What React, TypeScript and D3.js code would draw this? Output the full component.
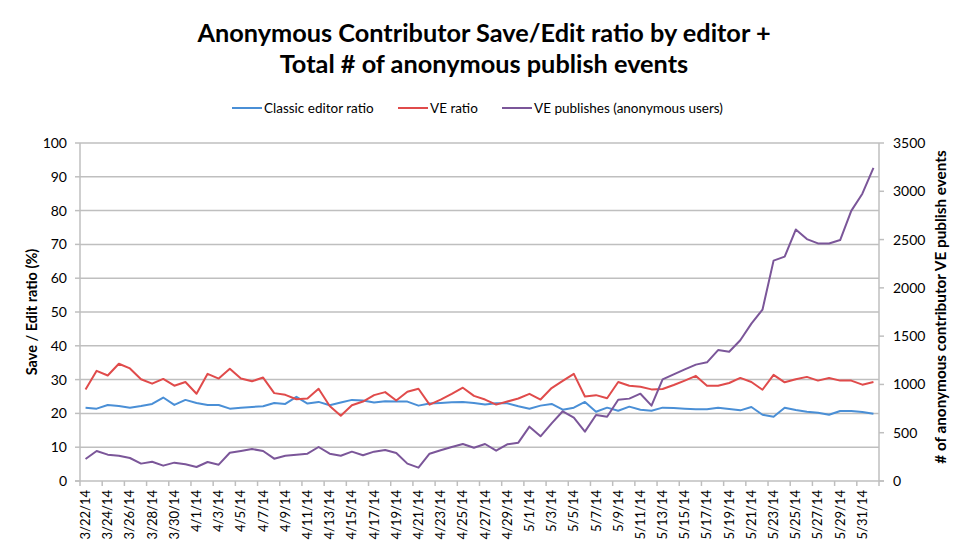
import * as React from 'react';
import * as d3 from "d3";

// one value per day, 3/22/14 .. 6/1/14
const startDate = new Date(2014, 2, 22);
const endDate = new Date(2014, 5, 2);

const classicRatio = [
    21.7, 21.4, 22.5, 22.2, 21.7, 22.2, 22.8, 24.7, 22.5, 24.0, 23.1, 22.5, 22.5, 21.4, 21.7,
    21.9, 22.1, 23.1, 22.8, 24.9, 22.9, 23.4, 22.4, 23.2, 24.0, 23.8, 23.2, 23.6, 23.5,
    23.5, 22.3, 22.9, 23.1, 23.3, 23.4, 23.1, 22.6, 23.0, 23.0, 22.1, 21.4, 22.3, 22.8,
    21.1, 21.7, 23.4, 20.5, 21.7, 20.8, 22.0, 21.1, 20.8, 21.7, 21.6, 21.4, 21.2, 21.2,
    21.7, 21.3, 20.9, 21.9, 19.6, 19.0, 21.7, 21.0, 20.5, 20.2, 19.6, 20.7, 20.7, 20.4, 19.9
];

const veRatio = [
    27.1, 32.6, 31.2, 34.7, 33.3, 30.1, 28.8, 30.2, 28.2, 29.3, 25.8, 31.7, 30.3, 33.2, 30.3,
    29.5, 30.6, 26.0, 25.5, 24.2, 24.4, 27.3, 22.2, 19.3, 22.4, 23.5, 25.4, 26.3, 23.8,
    26.4, 27.3, 22.6, 24.1, 25.8, 27.6, 25.2, 24.1, 22.6, 23.5, 24.4, 25.8, 24.1, 27.5,
    29.6, 31.7, 25.0, 25.4, 24.5, 29.3, 28.2, 27.9, 27.1, 27.2, 28.4, 29.7, 31.1, 28.2,
    28.2, 29.0, 30.5, 29.3, 27.0, 31.4, 29.2, 30.1, 30.8, 29.7, 30.5, 29.7, 29.7, 28.5, 29.3
];

const vePublishes = [
    228, 311, 273, 262, 238, 180, 200, 159, 190, 173, 145, 197, 169, 293, 311,
    331, 311, 231, 262, 273, 283, 352, 283, 262, 304, 266, 304, 321, 290,
    180, 138, 283, 318, 352, 383, 345, 383, 314, 380, 397, 563, 463, 597,
    722, 656, 511, 683, 666, 842, 853, 904, 780, 1053, 1105, 1156, 1205, 1229,
    1356, 1339, 1458, 1630, 1774, 2282, 2323, 2604, 2505, 2460, 2460, 2495, 2797, 2975, 3243
];

const leftTicks = [0, 10, 20, 30, 40, 50, 60, 70, 80, 90, 100];
const rightTicks = [0, 500, 1000, 1500, 2000, 2500, 3000, 3500];

const titleLines = ["Anonymous Contributor Save/Edit ratio by editor +", "Total # of anonymous publish events"];

const series = [
    { name: "Classic editor ratio", color: "#4a8fd6", values: classicRatio, axis: "left" },
    { name: "VE ratio", color: "#e04b4b", values: veRatio, axis: "left" },
    { name: "VE publishes (anonymous users)", color: "#7b5699", values: vePublishes, axis: "right" },
];

const font = "Lato, 'Open Sans', sans-serif";

export default function App() {
    const width = 957, height = 549;
    const left = 80, right = 879, top = 143, bottom = 481;

    const dates = d3.timeDay.range(startDate, endDate);
    const fmt = d3.timeFormat("%-m/%-d/%y");

    const x = d3.scaleBand<number>()
        .domain(dates.map((_, i) => i))
        .range([left, right]);
    const bw = x.bandwidth();
    const cx = (i: number) => (x(i) ?? 0) + bw / 2;

    const yL = d3.scaleLinear().domain([0, 100]).range([bottom, top]);
    const yR = d3.scaleLinear().domain([0, 3500]).range([bottom, top]);

    // legend line starts
    const legendX = [232, 398, 502];

    return (
        <svg width={width} height={height} style={{ position: "absolute", left: 0, top: 0, background: "#fff" }} fontFamily={font}>
            {titleLines.map((t, i) => (
                <text key={i} x={484} y={42 + i * 31} textAnchor="middle" fontSize={25.3} fontWeight="bold" fill="#000">{t}</text>
            ))}

            {series.map((s, i) => (
                <g key={s.name}>
                    <line x1={legendX[i]} x2={legendX[i] + 30} y1={108} y2={108} stroke={s.color} strokeWidth={2} />
                    <text x={legendX[i] + 32} y={112.5} fontSize={13.5} fill="#000">{s.name}</text>
                </g>
            ))}

            {leftTicks.filter(t => t > 0).map(t => (
                <line key={t} x1={left} x2={right} y1={yL(t)} y2={yL(t)} stroke="#bfbfbf" strokeWidth={1.5} />
            ))}

            <line x1={left} x2={left} y1={top} y2={bottom} stroke="#bfbfbf" strokeWidth={1.5} />
            <line x1={right} x2={right} y1={top} y2={bottom} stroke="#bfbfbf" strokeWidth={1.5} />
            <line x1={left - 5} x2={right + 5} y1={bottom} y2={bottom} stroke="#bfbfbf" strokeWidth={1.5} />

            {leftTicks.map(t => (
                <g key={t}>
                    <line x1={left - 5} x2={left} y1={yL(t)} y2={yL(t)} stroke="#bfbfbf" strokeWidth={1.5} />
                    <text x={left - 13} y={yL(t) + 5} textAnchor="end" fontSize={14} fill="#000">{t}</text>
                </g>
            ))}

            {rightTicks.map(t => (
                <g key={t}>
                    <line x1={right} x2={right + 5} y1={yR(t)} y2={yR(t)} stroke="#bfbfbf" strokeWidth={1.5} />
                    <text x={right + 14} y={yR(t) + 5} textAnchor="start" fontSize={14} fill="#000">{t}</text>
                </g>
            ))}

            {dates.map((d, i) => i % 2 === 0 ? (
                <g key={i}>
                    <line x1={x(i)} x2={x(i)} y1={bottom} y2={bottom + 5} stroke="#bfbfbf" strokeWidth={1.5} />
                    <text transform={`translate(${cx(i) + 4.5},${bottom + 9}) rotate(-90)`} textAnchor="end" fontSize={13} fill="#000">{fmt(d)}</text>
                </g>
            ) : null)}
            <line x1={right} x2={right} y1={bottom} y2={bottom + 5} stroke="#bfbfbf" strokeWidth={1.5} />

            <text transform={`translate(37,${(top + bottom) / 2}) rotate(-90)`} textAnchor="middle" fontSize={14.5} fontWeight="bold" fill="#000">Save / Edit ratio (%)</text>
            <text transform={`translate(946,${(top + bottom) / 2 - 5}) rotate(-90)`} textAnchor="middle" fontSize={15.3} fontWeight="bold" fill="#000"># of anonymous contributor VE publish events</text>

            {series.map(s => {
                const y = s.axis === "left" ? yL : yR;
                const line = d3.line<number>()
                    .x((_, i) => cx(i))
                    .y(v => y(v));
                return (
                    <path key={s.name} d={line(s.values) || undefined} fill="none" stroke={s.color} strokeWidth={2} strokeLinejoin="round" />
                );
            })}
        </svg>
    );
}
